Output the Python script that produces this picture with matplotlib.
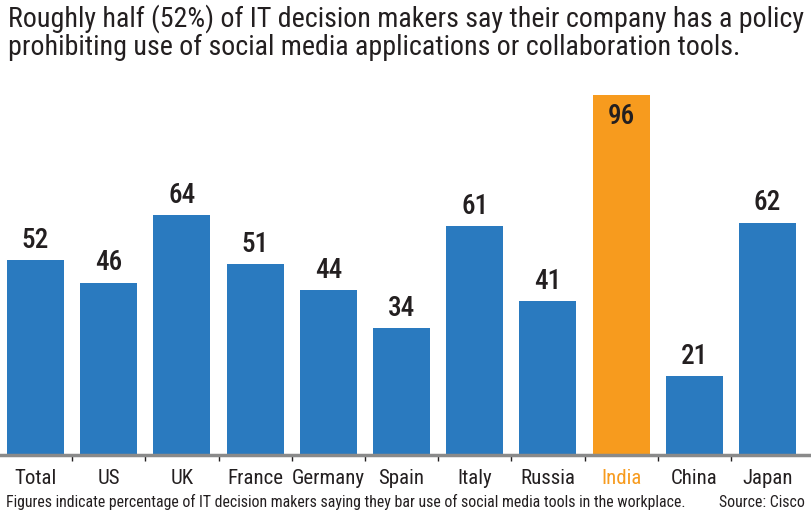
import matplotlib
matplotlib.use("Agg")
import matplotlib.pyplot as plt
from matplotlib.font_manager import fontManager, FontProperties

def wnum(w):
    if isinstance(w, int):
        return w
    return {"normal": 400, "regular": 400, "book": 400, "medium": 500, "semibold": 600,
            "demibold": 600, "bold": 700, "light": 300}.get(str(w).lower(), 400)

def find_font(weights):
    prefs = ["Liberation Sans Narrow", "Roboto Condensed", "Open Sans Condensed", "Noto Sans Condensed"]
    for p in prefs:
        for wt in weights:
            for f in fontManager.ttflist:
                if f.name == p and f.style == "normal" and wnum(f.weight) == wt:
                    return FontProperties(fname=f.fname)
    target = "DejaVuSansCondensed-Bold.ttf" if weights[0] >= 600 else "DejaVuSansCondensed.ttf"
    for f in fontManager.ttflist:
        if f.fname.endswith(target):
            return FontProperties(fname=f.fname)
    return FontProperties(family="DejaVu Sans", stretch="condensed")

FP = find_font([400])
FPB = find_font([500, 600, 700])

categories = ["Total", "US", "UK", "France", "Germany", "Spain", "Italy", "Russia", "India", "China", "Japan"]
values = [52, 46, 64, 51, 44, 34, 61, 41, 96, 21, 62]
highlight = "India"

BLUE = "#2a7abf"
ORANGE = "#f79b1e"
TEXT = "#231f20"

W, H = 812, 515
fig = plt.figure(figsize=(W / 100, H / 100), dpi=100)
ax = fig.add_axes([0, 1 - 455 / H, 1, 375 / H])

x = list(range(len(categories)))
colors = [ORANGE if c == highlight else BLUE for c in categories]
ax.bar(x, values, width=0.78, color=colors, zorder=2)
ax.set_xlim(-0.485, -0.485 + W / 73.2)
ax.set_ylim(0, 100)

def fp(base, size):
    p = base.copy()
    p.set_size(size)
    return p

for xi, v, c in zip(x, values, categories):
    if c == highlight:
        ax.text(xi, v - 2.2, str(v), ha="center", va="top", fontproperties=fp(FPB, 19.5), color=TEXT)
    else:
        ax.text(xi, v + 1.6, str(v), ha="center", va="bottom", fontproperties=fp(FPB, 19.5), color=TEXT)

for s in ["top", "right", "left"]:
    ax.spines[s].set_visible(False)
ax.spines["bottom"].set_color("#8a8a8a")
ax.spines["bottom"].set_linewidth(2.5)
ax.set_yticks([])
ax.set_xticks([i + 0.5 for i in x[:-1]])
ax.set_xticklabels([])
ax.tick_params(axis="x", length=4, width=1, color=TEXT, direction="out")

for xi, c in zip(x, categories):
    ax.text(xi, -3.8, c, ha="center", va="top", fontproperties=fp(FP, 15),
            color=ORANGE if c == highlight else TEXT)

t1 = fig.text(8 / W, 1 - 4 / H, "Roughly half (52%) of IT decision makers say their company has a policy",
              ha="left", va="top", fontproperties=fp(FP, 19), color=TEXT)
t2 = fig.text(8 / W, 1 - 34 / H, "prohibiting use of social media applications or collaboration tools.",
              ha="left", va="top", fontproperties=fp(FP, 19), color=TEXT)
f1 = fig.text(6 / W, 1 - 507 / H, "Figures indicate percentage of IT decision makers saying they bar use of social media tools in the workplace.",
              ha="left", va="baseline", fontproperties=fp(FP, 11.5), color=TEXT)
f2 = fig.text(805 / W, 1 - 507 / H, "Source: Cisco", ha="right", va="baseline", fontproperties=fp(FP, 11.5), color=TEXT)

# fit text widths to the reference
fig.canvas.draw()
r = fig.canvas.get_renderer()
def fit(t, target):
    w = t.get_window_extent(r).width
    s = t.get_fontproperties().get_size_in_points()
    t.set_fontsize(min(s * 1.3, s * target / w))
fit(t1, 797)
t2.set_fontsize(t1.get_fontsize())
fit(f1, 680)
f2.set_fontsize(f1.get_fontsize())

fig.savefig("out.png", dpi=100)
